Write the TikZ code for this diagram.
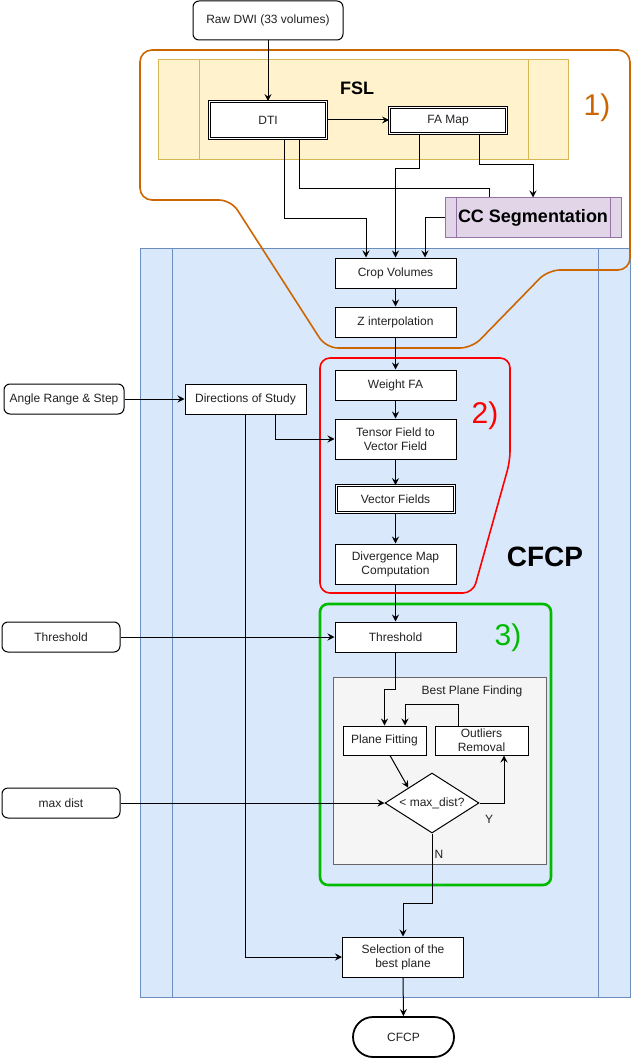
\documentclass[tikz,border=0pt]{standalone}
\usepackage{fontspec}
\setmainfont{Liberation Sans}
\usetikzlibrary{arrows.meta,shapes.geometric}
\definecolor{txt}{HTML}{222222}
\definecolor{orng}{HTML}{CC6600}
\definecolor{grn}{HTML}{00BB00}
\definecolor{bluefill}{HTML}{DAE8FC}
\definecolor{bluedraw}{HTML}{6C8EBF}
\definecolor{yelfill}{HTML}{FFF2CC}
\definecolor{yeldraw}{HTML}{D6B656}
\definecolor{purfill}{HTML}{E1D5E7}
\definecolor{purdraw}{HTML}{9673A6}
\definecolor{grayfill}{HTML}{F5F5F5}
\definecolor{graydraw}{HTML}{666666}
\tikzset{
  every node/.style={font=\fontsize{12}{14}\selectfont, text=txt},
  box/.style={draw=black, line width=1pt, fill=white, minimum width=121pt, minimum height=30pt, align=center, inner sep=0pt},
  dbox/.style={box, double=white, double distance=1.5pt, line width=0.8pt},
  rbox/.style={box, rounded corners=6pt},
  arr/.style={line width=1pt, -{Stealth[length=7pt,width=7pt,inset=2.5pt]}},
  ln/.style={line width=1pt},
}
\begin{document}
\begin{tikzpicture}[x=1pt,y=-1pt]
\useasboundingbox (0,0) rectangle (633,1059);
% regions
\filldraw[fill=bluefill, draw=bluedraw, line width=1pt] (140,248) rectangle (630,997);
\draw[bluedraw, line width=1pt] (172,248) -- (172,997) (598,248) -- (598,997);
\filldraw[fill=yelfill, draw=yeldraw, line width=1pt] (158,60) rectangle (568,160);
\draw[yeldraw, line width=1pt] (199,60) -- (199,160) (528,60) -- (528,160);
\node[font=\fontsize{18}{20}\selectfont\bfseries, text=black] (fsl) at (357,88) {FSL};
\draw[orng, line width=1.6pt, rounded corners=12pt] (140,50) -- (630,50) -- (630,270) -- (548,270) -- (472,348) -- (326,348) -- (231,200) -- (140,200) -- cycle;
\node[font=\fontsize{30}{32}\selectfont, text=orng] (l1) at (597,108) {1)};
\draw[red, line width=1.6pt, rounded corners=10pt] (320,358) -- (510,358) -- (510,461) -- (473,593) -- (320,593) -- cycle;
\node[font=\fontsize{30}{32}\selectfont, text=red] (l2) at (485,416) {2)};
\draw[grn, line width=2.6pt, rounded corners=8pt] (320,604) rectangle (551,885);
\node[font=\fontsize{30}{32}\selectfont, text=grn] (l3) at (508,638) {3)};
\filldraw[fill=grayfill, draw=graydraw, line width=1pt] (333,677) rectangle (546,864);
\node (bpf) at (472,691) {Best Plane Finding};
\node[font=\fontsize{28}{30}\selectfont\bfseries, text=black] (cfcplab) at (545,557) {CFCP};
% nodes
\node[rbox, minimum width=150pt, minimum height=39pt] (raw) at (268,20.5) {Raw DWI (33 volumes)};
\node[dbox, minimum width=117pt, minimum height=37pt] (dti) at (268,120) {DTI};
\node[dbox, minimum width=117pt, minimum height=26pt] (fa) at (448,120.5) {FA Map};
\node[box, fill=purfill, draw=purdraw, minimum width=176pt, minimum height=40pt, font=\fontsize{18}{20}\selectfont\bfseries, text=black] (cc) at (533,218) {CC Segmentation};
\draw[purdraw, line width=1pt] (456,198) -- (456,238) (610,198) -- (610,238);
\node[box] (crop) at (395.5,273) {Crop Volumes};
\node[box] (zint) at (395.5,322) {Z interpolation};
\node[box] (wfa) at (395.5,385) {Weight FA};
\node[box, minimum height=40pt] (tvf) at (395.5,439) {Tensor Field to\\Vector Field};
\node[dbox, minimum width=118pt, minimum height=27pt] (vf) at (395.5,499) {Vector Fields};
\node[box, minimum height=40pt] (div) at (395.5,564) {Divergence Map\\Computation};
\node[box] (dir) at (245.5,399) {Directions of Study};
\node[rbox, minimum width=120pt] (angle) at (64,399) {Angle Range \& Step};
\node[box] (thr) at (395.5,637) {Threshold};
\node[rbox, minimum width=118pt] (thrin) at (61,637) {Threshold};
\node[rbox, minimum width=118pt] (maxd) at (61,803) {max dist};
\node[box, minimum width=83pt, minimum height=29pt] (pf) at (384.5,740.5) {Plane Fitting};
\node[box, minimum width=93pt, minimum height=29pt] (out) at (481.5,740.5) {Outliers\\Removal};
\node[diamond, draw=black, line width=1pt, fill=white, minimum width=94pt, minimum height=60pt, aspect=1.57, inner sep=0pt] (dia) at (432,803) {< max\_dist?};
\node[box, minimum height=40pt] (sel) at (403,957) {Selection of the\\best plane};
\node[box, minimum width=101pt, minimum height=40pt, rounded corners=20pt, line width=1.8pt] (cfcp) at (403.5,1037) {CFCP};
\node (ylab) at (489,819) {Y};
\node (nlab) at (439,854) {N};
% connectors
\draw[arr] (raw) -- (dti);
\draw[arr] (dti.east) -- (dti.east -| fa.west);
\draw[arr] ([xshift=16pt]dti.south) -- ++(0,80) -| ([xshift=-29.5pt]crop.north);
\draw[ln] ([xshift=31pt]dti.south) -- ++(0,50) -| ([xshift=-44pt]cc.north);
\draw[arr] ([xshift=-29pt]fa.south) -- ++(0,35) -| (crop.north);
\draw[arr] ([xshift=31pt]fa.south) -- ++(0,31) -| (cc.north);
\draw[arr] (cc.west) -| ([xshift=29.5pt]crop.north);
\draw[arr] (crop) -- (zint);
\draw[arr] (zint) -- (wfa);
\draw[arr] (wfa) -- (tvf);
\draw[arr] (tvf) -- (vf);
\draw[arr] (vf) -- (div);
\draw[arr] (div) -- (thr);
\draw[arr] (angle) -- (dir);
\draw[arr] ([xshift=29.5pt]dir.south) |- (tvf.west);
\draw[arr] (dir.south) |- (sel.west);
\draw[arr] (thrin) -- (thr);
\draw[arr] (thr.south) -- ++(0,37) -| (pf.north);
\draw[arr] ([xshift=-23.5pt]out.north) -- ++(0,-21) -| ([xshift=20.5pt]pf.north);
\draw[arr] ([xshift=5.5pt]pf.south) -- (dia.north west);
\draw[arr] (maxd) -- (dia);
\draw[arr] (dia.east) -| ([xshift=22.5pt]out.south);
\draw[arr] (dia.south) -- ++(0,70) -| (sel.north);
\draw[arr] (sel) -- (cfcp);
\end{tikzpicture}
\end{document}
